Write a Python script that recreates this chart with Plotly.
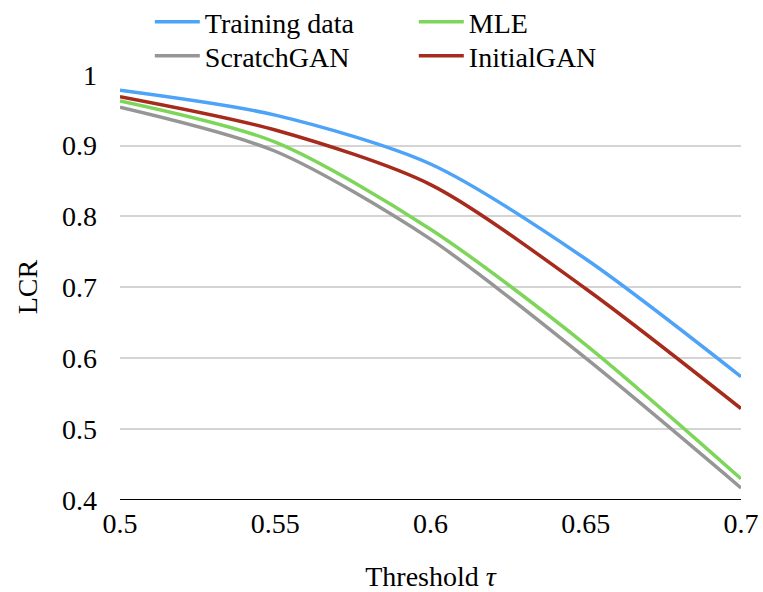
import plotly.graph_objects as go

thresholds = [0.5, 0.55, 0.6, 0.65, 0.7]
training_data = [0.978, 0.943, 0.874, 0.740, 0.574]
mle = [0.963, 0.905, 0.782, 0.619, 0.430]
scratch_gan = [0.954, 0.892, 0.768, 0.600, 0.417]
initial_gan = [0.969, 0.922, 0.845, 0.698, 0.529]

x_ticks = [0.5, 0.55, 0.6, 0.65, 0.7]
x_tick_labels = ["0.5", "0.55", "0.6", "0.65", "0.7"]
y_ticks = [0.4, 0.5, 0.6, 0.7, 0.8, 0.9, 1.0]
y_tick_labels = ["0.4", "0.5", "0.6", "0.7", "0.8", "0.9", "1"]

series = [
    ("Training data", training_data, "#4DA3F7", "legend"),
    ("MLE", mle, "#7DD65A", "legend"),
    ("ScratchGAN", scratch_gan, "#969696", "legend2"),
    ("InitialGAN", initial_gan, "#A62B1C", "legend2"),
]

FONT = "Liberation Serif"
FS = 28
fnt = dict(family=FONT, size=FS, color="black")

fig = go.Figure()
for name, vals, color, lg in series:
    fig.add_trace(go.Scatter(
        x=thresholds, y=vals, name=name, mode="lines", legend=lg,
        line=dict(color=color, width=3.5, shape="spline", smoothing=0.8),
    ))

legend_common = dict(
    orientation="h", x=0.048, xanchor="left", yanchor="middle",
    entrywidth=204, entrywidthmode="pixels",
    font=fnt, itemwidth=45, tracegroupgap=0,
    bgcolor="rgba(0,0,0,0)",
)

fig.update_layout(
    width=763, height=592,
    margin=dict(l=120, r=22, t=74, b=92, autoexpand=False),
    paper_bgcolor="white", plot_bgcolor="white",
    font=fnt,
    showlegend=True,
    legend=dict(y=1.122, **legend_common),
    legend2=dict(y=1.042, **legend_common),
    xaxis=dict(
        range=[0.5, 0.7], tickvals=x_ticks, ticktext=x_tick_labels,
        showgrid=False, zeroline=False,
        showline=False, ticks="", tickfont=fnt,
        ticklabelstandoff=4,
        title=dict(text="Threshold <i>τ</i>", standoff=28, font=fnt),
    ),
    yaxis=dict(
        range=[0.4, 1.001], tickvals=y_ticks, ticktext=y_tick_labels,
        showgrid=True, gridcolor="#D4D4D4", gridwidth=1.5,
        zeroline=False, showline=False, ticks="", tickfont=fnt,
        ticklabelstandoff=22,
        title=dict(text="LCR", standoff=16, font=fnt),
    ),
    shapes=[dict(type="line", xref="paper", yref="y", x0=0, x1=1,
                 y0=0.4, y1=0.4, line=dict(color="black", width=2), layer="above")],
)

fig.write_html("out.html")
